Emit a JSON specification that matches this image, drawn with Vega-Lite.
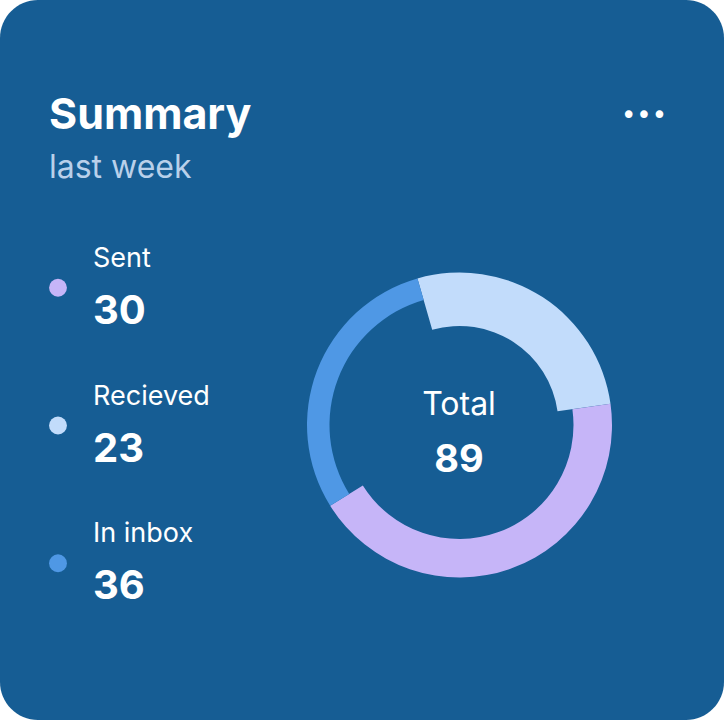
{
  "$schema": "https://vega.github.io/schema/vega-lite/v6.json",
  "width": 724,
  "height": 720,
  "padding": 0,
  "autosize": {"type": "none"},
  "background": "#ffffff",
  "config": {
    "view": {"fill": "#165d94", "stroke": null, "cornerRadius": 38},
    "font": "Inter"
  },
  "title": {
    "text": "Summary",
    "subtitle": "last week",
    "anchor": "start",
    "frame": "group",
    "orient": "top",
    "offset": -184,
    "dx": 49,
    "font": "Inter",
    "fontSize": 43,
    "fontWeight": "bold",
    "color": "#ffffff",
    "subtitleFont": "Inter",
    "subtitleFontSize": 32,
    "subtitleColor": "#b9d0ea",
    "subtitlePadding": 15
  },
  "datasets": {
    "mail": [
      {"category": "Sent", "count": 30, "arcShare": 156, "order": 2},
      {"category": "Recieved", "count": 23, "arcShare": 98, "order": 1},
      {"category": "In inbox", "count": 36, "arcShare": 106, "order": 3}
    ]
  },
  "data": {"name": "mail"},
  "layer": [
    {
      "transform": [
        {"stack": "arcShare", "groupby": [], "sort": [{"field": "order", "order": "ascending"}], "as": ["a0", "a1"]}
      ],
      "encoding": {
        "theta": {"field": "a0", "type": "quantitative", "stack": null, "scale": {"domain": [0, 360], "range": [-0.2793, 6.0039]}},
        "theta2": {"field": "a1"},
        "color": {"field": "category", "type": "nominal", "scale": {"domain": ["Sent", "Recieved", "In inbox"], "range": ["#c6b5f8", "#c2dcfb", "#4f98e5"]}, "legend": null}
      },
      "layer": [
        {"transform": [{"filter": "datum.category === 'Recieved'"}], "mark": {"type": "arc", "x": 459.5, "y": 425, "radius": 152.5, "radius2": 99}},
        {"transform": [{"filter": "datum.category === 'Sent'"}], "mark": {"type": "arc", "x": 459.5, "y": 425, "radius": 152.5, "radius2": 114}},
        {"transform": [{"filter": "datum.category === 'In inbox'"}], "mark": {"type": "arc", "x": 459.5, "y": 425, "radius": 152.5, "radius2": 130}}
      ]
    },
    {
      "transform": [{"aggregate": [{"op": "sum", "field": "count", "as": "total"}]}],
      "layer": [
        {"mark": {"type": "text", "text": "Total", "x": 459, "y": 425, "dy": -10, "align": "center", "baseline": "alphabetic", "fontSize": 32, "color": "#ffffff", "font": "Inter"}, "encoding": {}},
        {"mark": {"type": "text", "x": 459, "y": 425, "dy": 47, "align": "center", "baseline": "alphabetic", "fontSize": 38, "fontWeight": "bold", "color": "#ffffff", "font": "Inter"}, "encoding": {"text": {"field": "total", "type": "quantitative"}}},
        {"mark": {"type": "text", "text": "•••", "x": 644, "y": 116, "align": "center", "baseline": "middle", "fontSize": 26, "color": "#ffffff", "font": "DejaVu Sans"}, "encoding": {}}
      ]
    },
    {
      "encoding": {
        "y": {"field": "category", "type": "nominal", "axis": null, "scale": {"type": "point", "domain": ["Sent", "Recieved", "In inbox"], "range": [287.7, 563.3], "padding": 0}}
      },
      "layer": [
        {"mark": {"type": "point", "filled": true, "opacity": 1, "size": 320, "x": 58}, "encoding": {"color": {"field": "category", "type": "nominal"}}},
        {"mark": {"type": "text", "x": 93, "dy": -21, "align": "left", "baseline": "alphabetic", "fontSize": 27, "color": "#ffffff", "font": "Inter"}, "encoding": {"text": {"field": "category", "type": "nominal"}}},
        {"mark": {"type": "text", "x": 93, "dy": 36, "align": "left", "baseline": "alphabetic", "fontSize": 40, "fontWeight": "bold", "color": "#ffffff", "font": "Inter"}, "encoding": {"text": {"field": "count", "type": "quantitative"}}}
      ]
    }
  ]
}
